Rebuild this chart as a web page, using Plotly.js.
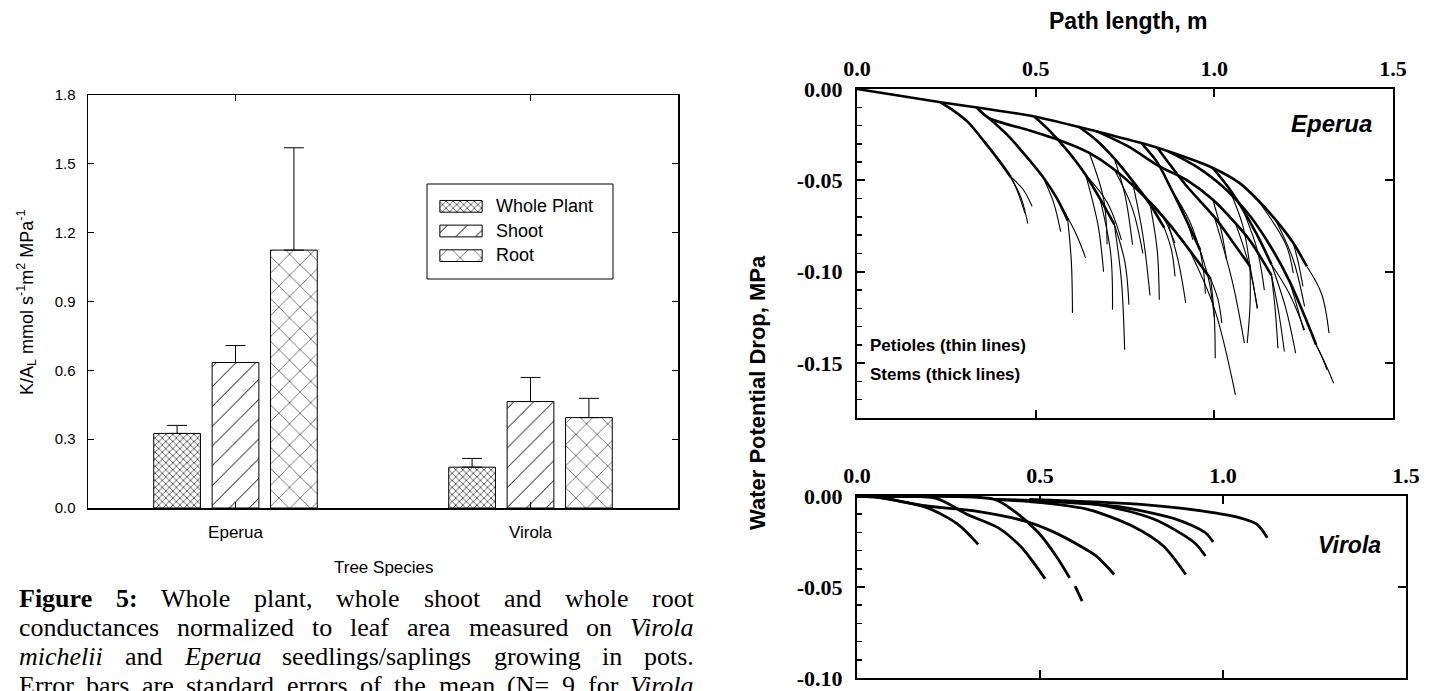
<!DOCTYPE html>
<html><head><meta charset="utf-8">
<script src="https://cdn.plot.ly/plotly-3.0.1.min.js"></script>
<style>html,body{margin:0;padding:0;background:#fff;overflow:hidden}#chart{width:1440px;height:691px}</style>
</head><body><div id="chart"></div>
<script>
// ---------------- Figure 5 data (bar chart) ----------------
const species = ['Eperua', 'Virola'];
const seriesNames = ['Whole Plant', 'Shoot', 'Root'];
const wholePlant = [0.325, 0.178];
const wholePlantErr = [0.035, 0.038];
const shoot = [0.634, 0.464];
const shootErr = [0.074, 0.105];
const root = [1.124, 0.394];
const rootErr = [0.446, 0.084];
const barTickVals = [0, 0.3, 0.6, 0.9, 1.2, 1.5, 1.8];

// ---------------- Path length panels ----------------
const pathTicks = [0, 0.5, 1.0, 1.5];
const pathTickText = ['0.0', '0.5', '1.0', '1.5'];
const eperuaTicks = [0, -0.05, -0.10, -0.15];
const eperuaTickText = ['0.00', '-0.05', '-0.10', '-0.15'];
const virolaTicks = [0, -0.05, -0.10];
const virolaTickText = ['0.00', '-0.05', '-0.10'];

// Eperua stems (thick lines)
const eperuaStemX = [
  [0, 0.234, 0.346, 0.496, 0.671, 0.796, 0.871, 0.996, 1.071, 1.121, 1.171, 1.221, 1.259],
  [0.871, 0.95, 1.03, 1.10, 1.16, 1.21, 1.25, 1.285],
  [0.234, 0.27, 0.31, 0.355, 0.395, 0.43],
  [0.334, 0.37, 0.48, 0.58, 0.65, 0.72, 0.80, 0.87, 0.93, 0.99],
  [0.37, 0.42, 0.47, 0.52, 0.56, 0.59],
  [0.496, 0.54, 0.59, 0.64, 0.68, 0.72],
  [0.62, 0.67, 0.72, 0.77, 0.82, 0.86],
  [0.671, 0.759, 0.846, 0.921, 0.996, 1.059, 1.10, 1.16],
  [0.796, 0.84, 0.88, 0.92, 0.96],
  [0.996, 1.04, 1.08, 1.12, 1.16],
  [0.84, 0.92, 1.00, 1.06, 1.10]
];
const eperuaStemY = [
  [0, -0.0073, -0.0104, -0.0150, -0.0232, -0.0296, -0.0341, -0.0432, -0.0515, -0.0606, -0.0715, -0.0843, -0.0971],
  [-0.0341, -0.0425, -0.0545, -0.0695, -0.0870, -0.1050, -0.1230, -0.1400],
  [-0.0073, -0.0118, -0.0180, -0.0285, -0.0385, -0.0480],
  [-0.0100, -0.0160, -0.0225, -0.0290, -0.0350, -0.0440, -0.0580, -0.0730, -0.0880, -0.1040],
  [-0.0160, -0.0250, -0.0360, -0.0480, -0.0600, -0.0720],
  [-0.0150, -0.0230, -0.0340, -0.0470, -0.0600, -0.0740],
  [-0.0205, -0.0280, -0.0380, -0.0500, -0.0630, -0.0760],
  [-0.0232, -0.0314, -0.0423, -0.0496, -0.0606, -0.0734, -0.0830, -0.1020],
  [-0.0296, -0.0400, -0.0550, -0.0710, -0.0880],
  [-0.0432, -0.0540, -0.0660, -0.0800, -0.0960],
  [-0.0320, -0.0525, -0.0700, -0.0860, -0.0970]
];
// Eperua petioles (thin lines)
const eperuaPetioleX = [
  [0.43, 0.46, 0.478], [0.43, 0.465, 0.49], [0.395, 0.44, 0.47],
  [0.59, 0.60, 0.603], [0.56, 0.61, 0.64], [0.52, 0.55, 0.57],
  [0.72, 0.74, 0.749], [0.68, 0.71, 0.715], [0.72, 0.75, 0.761],
  [0.64, 0.70, 0.74], [0.72, 0.75, 0.771], [0.65, 0.69, 0.70], [0.64, 0.675, 0.69],
  [0.72, 0.77, 0.80], [0.77, 0.80, 0.82], [0.87, 0.90, 0.92],
  [0.82, 0.84, 0.846], [0.86, 0.88, 0.89],
  [0.99, 1.0, 1.0025], [0.93, 1.0, 1.059], [0.99, 1.01, 1.021],
  [0.80, 0.85, 0.89], [0.996, 1.02, 1.034], [1.00, 1.05, 1.084],
  [0.88, 0.93, 0.965], [0.88, 0.915, 0.94],
  [0.96, 0.97, 0.975], [0.96, 0.985, 1.0],
  [1.10, 1.11, 1.12], [1.10, 1.10, 1.092],
  [1.16, 1.17, 1.178], [1.16, 1.18, 1.196], [1.059, 1.095, 1.121],
  [1.16, 1.20, 1.2275], [1.16, 1.21, 1.2525],
  [1.259, 1.30, 1.321], [1.171, 1.22, 1.2525], [1.121, 1.20, 1.221],
  [1.21, 1.23, 1.25], [1.221, 1.235, 1.248],
  [1.285, 1.30, 1.315], [1.285, 1.31, 1.334],
  [1.04, 1.08, 1.10], [1.08, 1.12, 1.14]
];
const eperuaPetioleY = [
  [-0.048, -0.060, -0.0737], [-0.048, -0.055, -0.0642], [-0.0385, -0.052, -0.068],
  [-0.072, -0.095, -0.1226], [-0.060, -0.078, -0.0925], [-0.048, -0.062, -0.078],
  [-0.074, -0.105, -0.1427], [-0.060, -0.090, -0.1208], [-0.074, -0.095, -0.118],
  [-0.047, -0.062, -0.0825], [-0.038, -0.058, -0.0852], [-0.035, -0.060, -0.085], [-0.047, -0.075, -0.100],
  [-0.044, -0.065, -0.090], [-0.050, -0.080, -0.113], [-0.073, -0.095, -0.117],
  [-0.063, -0.088, -0.1153], [-0.076, -0.088, -0.1026],
  [-0.104, -0.125, -0.1473], [-0.088, -0.120, -0.1673], [-0.104, -0.115, -0.128],
  [-0.058, -0.068, -0.0843], [-0.0606, -0.078, -0.0934], [-0.070, -0.105, -0.139],
  [-0.055, -0.072, -0.0916], [-0.055, -0.068, -0.0825],
  [-0.088, -0.100, -0.112], [-0.088, -0.105, -0.125],
  [-0.097, -0.108, -0.120], [-0.097, -0.118, -0.139],
  [-0.102, -0.120, -0.1418], [-0.102, -0.122, -0.1436], [-0.0734, -0.095, -0.120],
  [-0.096, -0.120, -0.1445], [-0.096, -0.112, -0.1318],
  [-0.0971, -0.112, -0.1336], [-0.0715, -0.093, -0.119], [-0.0606, -0.085, -0.1007],
  [-0.105, -0.118, -0.132], [-0.0843, -0.095, -0.108],
  [-0.140, -0.146, -0.1536], [-0.140, -0.150, -0.161],
  [-0.054, -0.075, -0.098], [-0.066, -0.088, -0.110]
];
// Virola stems
const virolaStemX = [
  [0, 0.045, 0.191, 0.276, 0.331],
  [0, 0.045, 0.216, 0.30, 0.385, 0.446, 0.483, 0.514],
  [0, 0.045, 0.191, 0.325, 0.459, 0.532, 0.618, 0.654, 0.703],
  [0, 0.045, 0.374, 0.435, 0.496, 0.544, 0.581, null, 0.596, 0.615],
  [0.374, 0.508, 0.63, 0.752, 0.837, 0.898],
  [0.374, 0.654, 0.812, 0.922, 0.952],
  [0.508, 0.715, 0.873, 0.952, 0.973],
  [0.471, 0.776, 0.946, 1.044, 1.093, 1.121]
];
const virolaStemY = [
  [0, -0.0004, -0.0064, -0.0156, -0.0266],
  [0, -0.0004, -0.0013, -0.010, -0.0174, -0.0275, -0.0367, -0.0455],
  [0, -0.0004, -0.0055, -0.0083, -0.0138, -0.0193, -0.0284, -0.033, -0.0431],
  [0, -0.0004, -0.0018, -0.0092, -0.0202, -0.033, -0.045, null, -0.0495, -0.0578],
  [-0.0018, -0.0037, -0.0073, -0.0165, -0.0275, -0.0431],
  [-0.0018, -0.0046, -0.0128, -0.0257, -0.033],
  [-0.0028, -0.0059, -0.0128, -0.0202, -0.0253],
  [-0.0018, -0.0046, -0.0083, -0.0119, -0.0156, -0.0229]
];

// Caption lines (word, style)
const captionLines = [
  [['Figure','bold'],['5:','bold'],['Whole',''],['plant,',''],['whole',''],['shoot',''],['and',''],['whole',''],['root','']],
  [['conductances',''],['normalized',''],['to',''],['leaf',''],['area',''],['measured',''],['on',''],['Virola','italic']],
  [['michelii','italic'],['and',''],['Eperua','italic'],['seedlings/saplings',''],['growing',''],['in',''],['pots.','']],
  [['Error',''],['bars',''],['are',''],['standard',''],['errors',''],['of',''],['the',''],['mean',''],['(N=',''],['9',''],['for',''],['Virola','italic']]
];

// ---------------- build ----------------
const W = 1440, H = 691;
const px = v => v / W, py = v => 1 - v / H;
const SANS = 'Liberation Sans, Arial, sans-serif';
const SERIF = 'Liberation Serif, Times New Roman, serif';

const patterns = [
  {shape: 'x', size: 5, solidity: 0.22},
  {shape: '/', size: 14, solidity: 0.07},
  {shape: 'x', size: 15, solidity: 0.07}
];
const barData = [[wholePlant, wholePlantErr], [shoot, shootErr], [root, rootErr]];

const traces = [];
barData.forEach(([vals, err], k) => {
  traces.push({
    type: 'bar', name: seriesNames[k], x: species, y: vals, xaxis: 'x', yaxis: 'y',
    marker: {color: 'white', line: {color: 'black', width: 1},
      pattern: Object.assign({fgcolor: 'black', bgcolor: 'white', fillmode: 'replace'}, patterns[k])},
    error_y: {type: 'data', symmetric: false, array: err, arrayminus: [0, 0], color: 'black', thickness: 1, width: 10},
    hoverinfo: 'skip'
  });
});
// legend swatches (horizontal bars on their own small axis)
traces.push({
  type: 'bar', orientation: 'h', x: seriesNames.map(() => 1), y: seriesNames.map((n, i) => i), xaxis: 'x6', yaxis: 'y6',
  marker: {color: 'white', line: {color: 'black', width: 1},
    pattern: {shape: patterns.map(p => p.shape), size: patterns.map(p => p.size), solidity: patterns.map(p => p.solidity),
      fgcolor: 'black', bgcolor: 'white', fillmode: 'replace'}},
  hoverinfo: 'skip'
});
eperuaPetioleX.forEach((xs, i) => traces.push({type: 'scatter', mode: 'lines', x: xs, y: eperuaPetioleY[i],
  xaxis: 'x2', yaxis: 'y2', line: {color: 'black', width: 1.1, shape: 'spline', smoothing: 1}, hoverinfo: 'skip'}));
eperuaStemX.forEach((xs, i) => traces.push({type: 'scatter', mode: 'lines', x: xs, y: eperuaStemY[i],
  xaxis: 'x2', yaxis: 'y2', line: {color: 'black', width: 2.6, shape: 'spline', smoothing: 0.8}, hoverinfo: 'skip'}));
traces.push({type: 'scatter', x: [null], y: [null], xaxis: 'x3', yaxis: 'y3', hoverinfo: 'skip'});
virolaStemX.forEach((xs, i) => traces.push({type: 'scatter', mode: 'lines', x: xs, y: virolaStemY[i],
  xaxis: 'x4', yaxis: 'y4', line: {color: 'black', width: 2.8, shape: 'spline', smoothing: 0.8}, connectgaps: false, hoverinfo: 'skip'}));
traces.push({type: 'scatter', x: [null], y: [null], xaxis: 'x5', yaxis: 'y5', hoverinfo: 'skip'});

const topX = [px(857), px(1393)];
const botX = [px(857), px(1406)];
const serifBold = {family: SERIF, size: 22, color: 'black', weight: 'bold'};
const baseAx = {showgrid: false, zeroline: false, linecolor: 'black', tickcolor: 'black', fixedrange: true};
const minorY = {tickmode: 'linear', tick0: 0, dtick: 0.01, ticks: 'inside', ticklen: 5, tickwidth: 1.5, tickcolor: 'black', showgrid: false};

const layout = {
  width: W, height: H, margin: {l: 0, r: 0, t: 0, b: 0}, paper_bgcolor: 'white', plot_bgcolor: 'rgba(0,0,0,0)',
  showlegend: false, barmode: 'group', bargap: 0.406, bargroupgap: 0.2,
  font: {family: SANS, color: 'black'},
  xaxis: Object.assign({}, baseAx, {domain: [px(88), px(678)], anchor: 'y', type: 'category', range: [-0.5, 1.5],
    showline: true, linewidth: 1.5, mirror: 'ticks', ticks: 'inside', ticklen: 6, tickwidth: 1.2,
    tickfont: {family: SANS, size: 17}, ticklabelstandoff: 8}),
  yaxis: Object.assign({}, baseAx, {domain: [py(508), py(95)], anchor: 'x', range: [0, 1.8], tickvals: barTickVals,
    tickformat: '.1f', showline: true, linewidth: 1.5, mirror: 'ticks', ticks: 'inside', ticklen: 6, tickwidth: 1.2,
    tickfont: {family: SANS, size: 15}, ticklabelstandoff: 8}),
  xaxis6: Object.assign({}, baseAx, {domain: [px(439), px(483)], anchor: 'y6', range: [-0.02, 1.02], visible: false}),
  yaxis6: Object.assign({}, baseAx, {domain: [py(268), py(194)], anchor: 'x6', range: [2.5, -0.5], visible: false}),
  xaxis2: Object.assign({}, baseAx, {domain: topX, anchor: 'y2', side: 'top', range: [0, 1.5], tickvals: pathTicks,
    ticktext: pathTickText, ticks: 'inside', ticklen: 8, tickwidth: 2, showline: true, linewidth: 2, mirror: true,
    tickfont: serifBold, ticklabelstandoff: 2}),
  yaxis2: Object.assign({}, baseAx, {domain: [py(418), py(89)], anchor: 'x2', range: [-0.18, 0], tickvals: eperuaTicks,
    ticktext: eperuaTickText, ticks: 'inside', ticklen: 8, tickwidth: 2, showline: true, linewidth: 2, mirror: true,
    minor: minorY, tickfont: serifBold, ticklabelstandoff: 8}),
  xaxis3: Object.assign({}, baseAx, {overlaying: 'x2', anchor: 'y3', side: 'bottom', range: [0, 1.5], tickvals: [0.5, 1.0],
    ticks: 'inside', ticklen: 8, tickwidth: 2, showticklabels: false, showline: false}),
  yaxis3: Object.assign({}, baseAx, {overlaying: 'y2', anchor: 'x3', side: 'right', range: [-0.18, 0], tickvals: eperuaTicks,
    ticks: 'inside', ticklen: 8, tickwidth: 2, showticklabels: false, showline: false}),
  xaxis4: Object.assign({}, baseAx, {domain: botX, anchor: 'y4', side: 'top', range: [0, 1.5], tickvals: pathTicks,
    ticktext: pathTickText, ticks: 'inside', ticklen: 8, tickwidth: 2, showline: true, linewidth: 2, mirror: true,
    tickfont: serifBold, ticklabelstandoff: 2}),
  yaxis4: Object.assign({}, baseAx, {domain: [py(678), py(496)], anchor: 'x4', range: [-0.10, 0], tickvals: virolaTicks,
    ticktext: virolaTickText, ticks: 'inside', ticklen: 8, tickwidth: 2, showline: true, linewidth: 2, mirror: true,
    minor: minorY, tickfont: serifBold, ticklabelstandoff: 8}),
  xaxis5: Object.assign({}, baseAx, {overlaying: 'x4', anchor: 'y5', side: 'bottom', range: [0, 1.5], tickvals: [0.5, 1.0],
    ticks: 'inside', ticklen: 8, tickwidth: 2, showticklabels: false, showline: false}),
  yaxis5: Object.assign({}, baseAx, {overlaying: 'y4', anchor: 'x5', side: 'right', range: [-0.10, 0], tickvals: virolaTicks,
    ticks: 'inside', ticklen: 8, tickwidth: 2, showticklabels: false, showline: false}),
  shapes: [
    {type: 'rect', xref: 'paper', yref: 'paper', x0: px(427), x1: px(613), y0: py(279), y1: py(184), line: {color: 'black', width: 1}, fillcolor: 'rgba(0,0,0,0)'}
  ],
  annotations: []
};

function ann(text, x, y, opts) {
  layout.annotations.push(Object.assign({text: text, xref: 'paper', yref: 'paper', x: px(x), y: py(y),
    xanchor: 'center', yanchor: 'middle', showarrow: false, font: {family: SANS, size: 17, color: 'black'}}, opts || {}));
}
ann('K/A<sub>L</sub> mmol s<sup>-1</sup>m<sup>2</sup> MPa<sup>-1</sup>', 26, 303, {textangle: -90, font: {family: SANS, size: 18, color: 'black'}});
ann('Tree Species', 384, 567);
seriesNames.forEach((n, i) => ann(n, 494, 206 + i * 24.5, {xanchor: 'left', font: {family: SANS, size: 18, color: 'black'}}));
ann('<b>Path length, m</b>', 1128, 21, {font: {family: SANS, size: 23, color: 'black'}});
ann('<b>Water Potential Drop, MPa</b>', 757, 393, {textangle: -90, font: {family: SANS, size: 22, color: 'black'}});
ann('<b><i>Eperua</i></b>', 1374, 123, {xanchor: 'right', font: {family: SANS, size: 24, color: 'black'}});
ann('<b><i>Virola</i></b>', 1383, 545, {xanchor: 'right', font: {family: SANS, size: 23, color: 'black'}});
ann('<b>Petioles (thin lines)</b>', 868, 345, {xanchor: 'left', font: {family: SANS, size: 17, color: 'black'}});
ann('<b>Stems (thick lines)</b>', 868, 374, {xanchor: 'left', font: {family: SANS, size: 17, color: 'black'}});

// justified caption
const capSize = 26, capLeft = 18, capRight = 693;
const capY = [598, 627, 656, 685];
const ctx = document.createElement('canvas').getContext('2d');
captionLines.forEach((words, li) => {
  const widths = words.map(([w, s]) => { ctx.font = (s || 'normal') + ' ' + capSize + 'px "Liberation Serif"'; return ctx.measureText(w).width; });
  const total = widths.reduce((a, b) => a + b, 0);
  const gap = (capRight - capLeft - total) / (words.length - 1);
  let xpos = capLeft;
  words.forEach(([w, s], i) => {
    const t = s === 'bold' ? '<b>' + w + '</b>' : s === 'italic' ? '<i>' + w + '</i>' : w;
    ann(t, xpos - 1, capY[li], {xanchor: 'left', font: {family: SERIF, size: capSize, color: 'black'}});
    xpos += widths[i] + gap;
  });
});

Plotly.newPlot('chart', traces, layout, {displayModeBar: false, staticPlot: true});
</script></body></html>
